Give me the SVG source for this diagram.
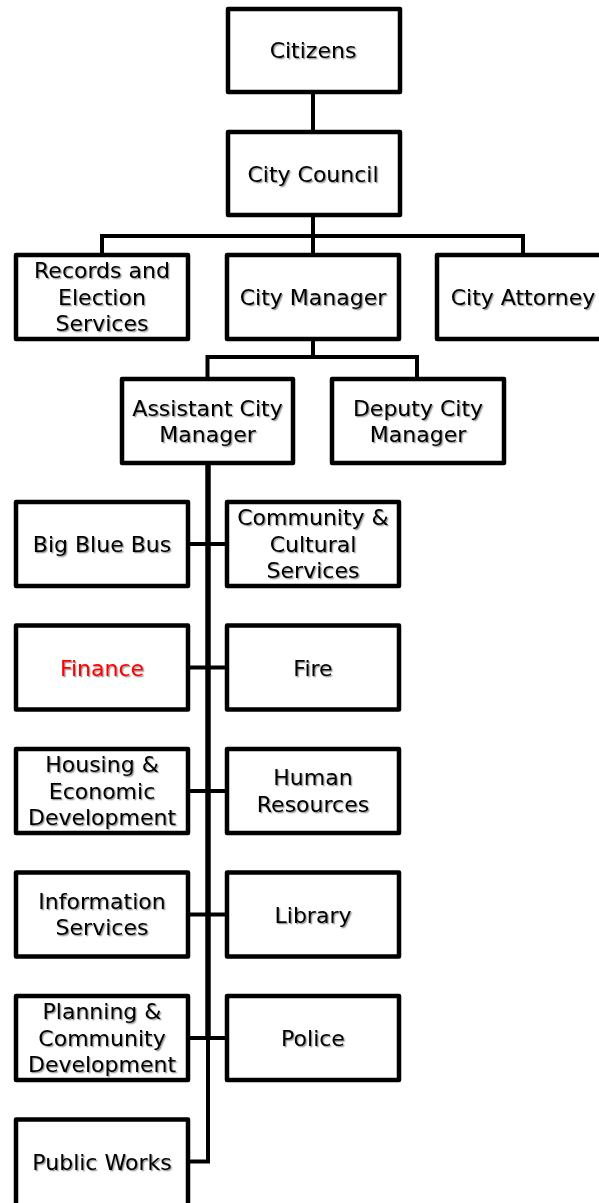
<svg xmlns="http://www.w3.org/2000/svg" width="599" height="1203" viewBox="0 0 599 1203">
<defs>
<filter id="sh" x="-10%" y="-20%" width="120%" height="150%">
<feDropShadow dx="1.3" dy="1.3" stdDeviation="0.7" flood-color="#000" flood-opacity="0.4"/>
</filter>
</defs>
<style>
.box{fill:#fff;stroke:#000;stroke-width:4.5;stroke-linejoin:round}
.t{font-family:"DejaVu Sans","Liberation Sans",sans-serif;font-size:22px;fill:#000;text-anchor:middle;filter:url(#sh)}
.red{fill:#ff0000}
.c{fill:none;stroke:#000;stroke-width:4;stroke-linejoin:miter}
.trunk{fill:none;stroke:#000;stroke-width:5.5}
</style>
<rect width="599" height="1203" fill="#fff"/>
<g id="connectors">
<path class="c" d="M313 94 V130"/>
<path class="c" d="M313 217 V236 M102 253 V236 H523 V253 M313 236 V253"/>
<path class="c" d="M313 341 V357 M207.5 377 V357 H417 V377"/>
<path class="trunk" d="M208 465 V1038"/>
<path class="c" d="M208 1036 V1161.5 H190"/>
<path class="c" d="M190 544 H225 M190 667.5 H225 M190 791 H225 M190 914.5 H225 M190 1038 H225"/>
</g>
<g id="citizens"><rect class="box" x="228" y="9" width="172" height="83"/><text class="t" x="313" y="58">Citizens</text></g>
<g id="council"><rect class="box" x="228" y="132" width="172" height="83"/><text class="t" x="313" y="181.5">City Council</text></g>
<g id="records"><rect class="box" x="16" y="255" width="172" height="84"/><text class="t" x="102" y="278">Records and</text><text class="t" x="102" y="304.5">Election</text><text class="t" x="102" y="331">Services</text></g>
<g id="manager"><rect class="box" x="227" y="255" width="172" height="84"/><text class="t" x="313" y="305">City Manager</text></g>
<g id="attorney"><rect class="box" x="437" y="255" width="172" height="84"/><text class="t" x="523" y="305">City Attorney</text></g>
<g id="assistant"><rect class="box" x="122" y="379" width="171" height="84"/><text class="t" x="207.5" y="415.5">Assistant City</text><text class="t" x="207.5" y="441.5">Manager</text></g>
<g id="deputy"><rect class="box" x="332" y="379" width="172" height="84"/><text class="t" x="418" y="415.5">Deputy City</text><text class="t" x="418" y="441.5">Manager</text></g>
<g id="bigbluebus"><rect class="box" x="16" y="502" width="172" height="84"/><text class="t" x="102" y="552">Big Blue Bus</text></g>
<g id="community"><rect class="box" x="227" y="502" width="172" height="84"/><text class="t" x="313" y="525">Community &amp;</text><text class="t" x="313" y="551.5">Cultural</text><text class="t" x="313" y="578">Services</text></g>
<g id="finance"><rect class="box" x="16" y="625.5" width="172" height="84"/><text class="t red" x="102" y="675.5">Finance</text></g>
<g id="fire"><rect class="box" x="227" y="625.5" width="172" height="84"/><text class="t" x="313" y="675.5">Fire</text></g>
<g id="housing"><rect class="box" x="16" y="749" width="172" height="84"/><text class="t" x="102" y="772">Housing &amp;</text><text class="t" x="102" y="798.5">Economic</text><text class="t" x="102" y="825">Development</text></g>
<g id="hr"><rect class="box" x="227" y="749" width="172" height="84"/><text class="t" x="313" y="785">Human</text><text class="t" x="313" y="811.5">Resources</text></g>
<g id="infoservices"><rect class="box" x="16" y="872.5" width="172" height="84"/><text class="t" x="102" y="908.5">Information</text><text class="t" x="102" y="935">Services</text></g>
<g id="library"><rect class="box" x="227" y="872.5" width="172" height="84"/><text class="t" x="313" y="922.5">Library</text></g>
<g id="planning"><rect class="box" x="16" y="996" width="172" height="84"/><text class="t" x="102" y="1019">Planning &amp;</text><text class="t" x="102" y="1045.5">Community</text><text class="t" x="102" y="1072">Development</text></g>
<g id="police"><rect class="box" x="227" y="996" width="172" height="84"/><text class="t" x="313" y="1046">Police</text></g>
<g id="publicworks"><rect class="box" x="16" y="1119.5" width="172" height="100"/><text class="t" x="102" y="1169.5">Public Works</text></g>
</svg>
